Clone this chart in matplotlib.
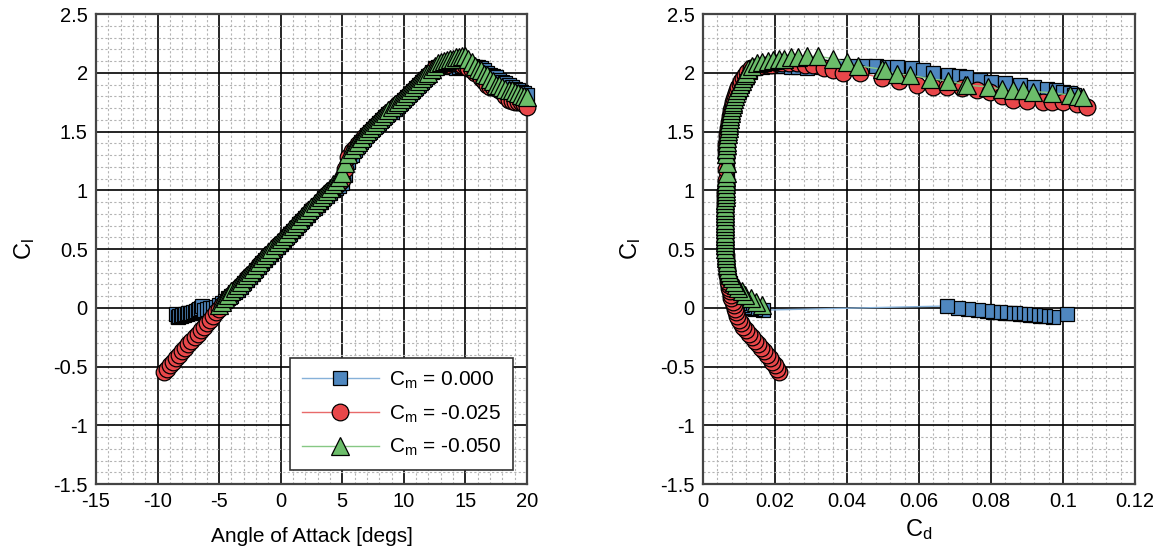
#  Cl - alpha and drag polar for three pitching-moment targets

import matplotlib.pyplot as plt
import numpy as np
from matplotlib.ticker import MultipleLocator, FormatStrFormatter

plt.rcParams['font.family'] = ['Liberation Sans', 'DejaVu Sans']
plt.rcParams['mathtext.fontset'] = 'custom'
plt.rcParams['mathtext.rm'] = 'Liberation Sans'
plt.rcParams['mathtext.it'] = 'Liberation Sans'

# ---- data ----

# Cm = 0.000 (blue squares)
alpha_0 = [-8.5, -8.375, -8.25, -8.125, -8.0, -7.875, -7.75, -7.625, -7.5, -7.375,
           -7.25, -7.125, -7.0, -6.875, -6.75, -6.625, -6.5, -6.375, -6.25,
           -6.0, -5.75, -5.5, -5.25, -5.0, -4.75, -4.5, -4.25, -4.0, -3.75, -3.5, -3.25,
           -3.0, -2.75, -2.5, -2.25, -2.0, -1.75, -1.5, -1.25, -1.0, -0.75, -0.5, -0.25, 0.0,
           0.25, 0.5, 0.75, 1.0, 1.25, 1.5, 1.75, 2.0, 2.25, 2.5, 2.75, 3.0,
           3.25, 3.5, 3.75, 4.0, 4.25, 4.5, 4.75, 5.0, 5.25, 5.5, 5.75, 6.0,
           6.25, 6.5, 6.75, 7.0, 7.25, 7.5, 7.75, 8.0, 8.25, 8.5, 8.75, 9.0,
           9.25, 9.5, 9.75, 10.0, 10.25, 10.5, 10.75, 11.0, 11.25, 11.5, 11.75, 12.0,
           12.25, 12.5, 12.75, 13.0, 13.25, 13.5, 13.75, 14.0, 14.25, 14.5, 14.75,
           15.0, 15.25, 15.5, 15.75, 16.0, 16.25, 16.5, 16.75, 17.0, 17.25, 17.5,
           17.75, 18.0, 18.25, 18.5, 18.75, 19.0, 19.25, 19.5, 19.75, 20.0]
cl_0 = [-0.05, -0.075, -0.072, -0.069, -0.065, -0.06, -0.055, -0.052, -0.048, -0.045,
        -0.043, -0.04, -0.037, -0.03, -0.02, -0.01, 0.0, 0.015, -0.02,
        -0.01, -0.005, 0.0, 0.01, 0.02, 0.04, 0.06, 0.08, 0.10, 0.13, 0.155, 0.18,
        0.21, 0.24, 0.265, 0.29, 0.32, 0.35, 0.38, 0.405, 0.435, 0.46, 0.49, 0.52, 0.545,
        0.57, 0.60, 0.63, 0.655, 0.68, 0.71, 0.74, 0.765, 0.79, 0.82, 0.85, 0.875,
        0.90, 0.93, 0.955, 0.975, 1.00, 1.02, 1.04, 1.06, 1.13, 1.24, 1.30, 1.34,
        1.375, 1.41, 1.44, 1.47, 1.495, 1.52, 1.545, 1.57, 1.595, 1.62, 1.645, 1.67,
        1.695, 1.72, 1.745, 1.77, 1.795, 1.82, 1.845, 1.87, 1.895, 1.92, 1.945, 1.97,
        2.01, 2.04, 2.05, 2.06, 2.06, 2.06, 2.05, 2.05, 2.04, 2.05, 2.06,
        2.06, 2.06, 2.06, 2.05, 2.05, 2.04, 2.02, 2.00, 1.98, 1.97, 1.96,
        1.94, 1.92, 1.91, 1.90, 1.88, 1.86, 1.85, 1.84, 1.83, 1.81]
cd_0 = [0.101, 0.0972, 0.0949, 0.0935, 0.0921, 0.0907, 0.0894, 0.088, 0.0866, 0.0852,
        0.0838, 0.0825, 0.0806, 0.0788, 0.0765, 0.0737, 0.0707, 0.0677, 0.0167,
        0.0145, 0.0133, 0.0123, 0.0114, 0.0107, 0.0100, 0.0095, 0.0090, 0.0086, 0.0082, 0.0079, 0.0076,
        0.0074, 0.0072, 0.0070, 0.0068, 0.0067, 0.0066, 0.0065, 0.0064, 0.0064, 0.0063, 0.0063, 0.0062, 0.0062,
        0.0062, 0.0062, 0.0062, 0.0062, 0.0062, 0.0062, 0.0062, 0.0062, 0.0062, 0.0062, 0.0062, 0.0063,
        0.0063, 0.0063, 0.0064, 0.0064, 0.0065, 0.0066, 0.0066, 0.0067, 0.0067, 0.0066, 0.0066, 0.0066,
        0.0067, 0.0068, 0.0069, 0.0070, 0.0071, 0.0072, 0.0073, 0.0074, 0.0076, 0.0077, 0.0079, 0.0080,
        0.0082, 0.0084, 0.0086, 0.0089, 0.0092, 0.0095, 0.0099, 0.0103, 0.0107, 0.0111, 0.0116, 0.0121,
        0.0130, 0.0145, 0.0165, 0.0185, 0.0205, 0.0225, 0.0245, 0.0265, 0.0290, 0.0330, 0.0380,
        0.0420, 0.0450, 0.0480, 0.0510, 0.0540, 0.0580, 0.0610, 0.0640, 0.0680, 0.0710, 0.0730,
        0.0770, 0.0800, 0.0840, 0.0880, 0.0920, 0.0955, 0.0980, 0.1000, 0.1020, 0.1030]

# Cm = -0.025 (red circles)
alpha_1 = [-9.5, -9.25, -9.0, -8.75, -8.5, -8.25, -8.0, -7.75, -7.5, -7.25, -7.0, -6.75,
           -6.5, -6.25, -6.0, -5.75, -5.5, -5.25, -5.0, -4.75, -4.5, -4.25, -4.0, -3.75, -3.5, -3.25,
           -3.0, -2.75, -2.5, -2.25, -2.0, -1.75, -1.5, -1.25, -1.0, -0.75, -0.5, -0.25, 0.0,
           0.25, 0.5, 0.75, 1.0, 1.25, 1.5, 1.75, 2.0, 2.25, 2.5, 2.75, 3.0,
           3.25, 3.5, 3.75, 4.0, 4.25, 4.5, 4.75, 5.0, 5.25, 5.5, 5.75, 6.0,
           6.25, 6.5, 6.75, 7.0, 7.25, 7.5, 7.75, 8.0, 8.25, 8.5, 8.75, 9.0,
           9.25, 9.5, 9.75, 10.0, 10.25, 10.5, 10.75, 11.0, 11.25, 11.5, 11.75, 12.0,
           12.25, 12.5, 12.75, 13.0, 13.25, 13.5, 13.75, 14.0, 14.25, 14.5, 14.75,
           15.0, 15.25, 15.5, 15.75, 16.0, 16.25, 16.5, 16.75, 17.0, 17.25, 17.5,
           17.75, 18.0, 18.25, 18.5, 18.75, 19.0, 19.25, 19.5, 19.75, 20.0]
cl_1 = [-0.55, -0.52, -0.49, -0.46, -0.43, -0.40, -0.37, -0.34, -0.31, -0.28, -0.25, -0.22,
        -0.19, -0.16, -0.13, -0.10, -0.07, -0.04, -0.01, 0.02, 0.05, 0.08, 0.11, 0.14, 0.165, 0.19,
        0.22, 0.25, 0.275, 0.30, 0.33, 0.36, 0.39, 0.415, 0.445, 0.47, 0.50, 0.53, 0.555,
        0.58, 0.61, 0.64, 0.665, 0.69, 0.72, 0.75, 0.775, 0.80, 0.83, 0.86, 0.885,
        0.91, 0.94, 0.965, 0.99, 1.015, 1.04, 1.065, 1.09, 1.18, 1.28, 1.33, 1.36,
        1.39, 1.42, 1.45, 1.48, 1.505, 1.53, 1.555, 1.58, 1.605, 1.63, 1.655, 1.68,
        1.705, 1.73, 1.755, 1.78, 1.805, 1.83, 1.855, 1.88, 1.905, 1.93, 1.955, 1.98,
        2.01, 2.04, 2.05, 2.06, 2.07, 2.07, 2.08, 2.08, 2.08, 2.08, 2.07,
        2.065, 2.04, 2.02, 2.00, 2.00, 1.955, 1.93, 1.895, 1.88, 1.88, 1.87,
        1.855, 1.84, 1.80, 1.77, 1.76, 1.75, 1.75, 1.75, 1.73, 1.71]
cd_1 = [0.0210, 0.0205, 0.0200, 0.0193, 0.0185, 0.0178, 0.0170, 0.0161, 0.0152, 0.0144, 0.0135, 0.0127,
        0.0120, 0.0112, 0.0105, 0.0100, 0.0095, 0.0091, 0.0088, 0.0085, 0.0082, 0.0079, 0.0077, 0.0075, 0.0073, 0.0071,
        0.0070, 0.0069, 0.0068, 0.0067, 0.0066, 0.0065, 0.0064, 0.0063, 0.0063, 0.0062, 0.0062, 0.0061, 0.0061,
        0.0060, 0.0060, 0.0060, 0.0060, 0.0060, 0.0060, 0.0060, 0.0060, 0.0060, 0.0060, 0.0061, 0.0061,
        0.0061, 0.0061, 0.0062, 0.0062, 0.0063, 0.0063, 0.0064, 0.0064, 0.0064, 0.0063, 0.0063, 0.0064,
        0.0065, 0.0066, 0.0067, 0.0068, 0.0069, 0.0070, 0.0071, 0.0072, 0.0074, 0.0075, 0.0077, 0.0078,
        0.0080, 0.0082, 0.0084, 0.0086, 0.0089, 0.0091, 0.0094, 0.0098, 0.0102, 0.0106, 0.0111, 0.0116,
        0.0122, 0.0132, 0.0145, 0.0160, 0.0175, 0.0190, 0.0205, 0.0220, 0.0240, 0.0260, 0.0283,
        0.0306, 0.0335, 0.0360, 0.0390, 0.0436, 0.0497, 0.0545, 0.0594, 0.0640, 0.0677, 0.0720,
        0.0760, 0.0797, 0.0830, 0.0860, 0.0900, 0.0944, 0.0970, 0.1000, 0.1040, 0.1066]

# Cm = -0.050 (green triangles)
alpha_2 = [-5.0, -4.75, -4.5, -4.25, -4.0, -3.75, -3.5, -3.25,
           -3.0, -2.75, -2.5, -2.25, -2.0, -1.75, -1.5, -1.25, -1.0, -0.75, -0.5, -0.25, 0.0,
           0.25, 0.5, 0.75, 1.0, 1.25, 1.5, 1.75, 2.0, 2.25, 2.5, 2.75, 3.0,
           3.25, 3.5, 3.75, 4.0, 4.25, 4.5, 4.75, 5.0, 5.25, 5.5, 5.75, 6.0,
           6.25, 6.5, 6.75, 7.0, 7.25, 7.5, 7.75, 8.0, 8.25, 8.5, 8.75, 9.0,
           9.25, 9.5, 9.75, 10.0, 10.25, 10.5, 10.75, 11.0, 11.25, 11.5, 11.75, 12.0,
           12.25, 12.5, 12.75, 13.0, 13.25, 13.5, 13.75, 14.0, 14.25, 14.5, 14.75,
           15.0, 15.25, 15.5, 15.75, 16.0, 16.25, 16.5, 16.75, 17.0, 17.25, 17.5,
           17.75, 18.0, 18.25, 18.5, 18.75, 19.0, 19.25, 19.5, 19.75, 20.0]
cl_2 = [0.02, 0.05, 0.08, 0.11, 0.14, 0.165, 0.195, 0.22,
        0.25, 0.28, 0.305, 0.33, 0.36, 0.39, 0.42, 0.445, 0.475, 0.50, 0.53, 0.56, 0.585,
        0.61, 0.64, 0.67, 0.695, 0.72, 0.75, 0.78, 0.805, 0.83, 0.86, 0.89, 0.915,
        0.94, 0.97, 0.995, 1.02, 1.05, 1.08, 1.11, 1.15, 1.23, 1.31, 1.355, 1.385,
        1.415, 1.445, 1.475, 1.505, 1.53, 1.555, 1.58, 1.605, 1.63, 1.655, 1.68, 1.705,
        1.73, 1.755, 1.78, 1.805, 1.83, 1.855, 1.88, 1.905, 1.93, 1.955, 1.98, 2.00,
        2.03, 2.06, 2.08, 2.09, 2.10, 2.11, 2.12, 2.12, 2.13, 2.13, 2.14,
        2.14, 2.12, 2.09, 2.06, 2.03, 2.02, 1.99, 1.98, 1.95, 1.93, 1.90,
        1.895, 1.88, 1.86, 1.85, 1.85, 1.84, 1.83, 1.81, 1.80, 1.79]
cd_2 = [0.0164, 0.0147, 0.0132, 0.0118, 0.0107, 0.0098, 0.0091, 0.0085,
        0.0080, 0.0076, 0.0073, 0.0070, 0.0068, 0.0066, 0.0065, 0.0064, 0.0063, 0.0062, 0.0062, 0.0061, 0.0061,
        0.0061, 0.0061, 0.0061, 0.0061, 0.0061, 0.0061, 0.0061, 0.0061, 0.0062, 0.0062, 0.0062, 0.0062,
        0.0063, 0.0063, 0.0063, 0.0064, 0.0064, 0.0065, 0.0065, 0.0066, 0.0066, 0.0065, 0.0065, 0.0066,
        0.0067, 0.0068, 0.0069, 0.0070, 0.0071, 0.0072, 0.0073, 0.0074, 0.0076, 0.0077, 0.0079, 0.0080,
        0.0082, 0.0084, 0.0086, 0.0089, 0.0092, 0.0095, 0.0099, 0.0103, 0.0107, 0.0111, 0.0116, 0.0120,
        0.0126, 0.0137, 0.0150, 0.0165, 0.0180, 0.0195, 0.0210, 0.0225, 0.0245, 0.0265, 0.0290,
        0.0320, 0.0362, 0.0400, 0.0431, 0.0496, 0.0506, 0.0538, 0.0575, 0.0630, 0.0680, 0.0728,
        0.0732, 0.0793, 0.0830, 0.0862, 0.0890, 0.0918, 0.0970, 0.1020, 0.1043, 0.1056]

labels = ['C$_\\mathrm{m}$ = 0.000', 'C$_\\mathrm{m}$ = -0.025', 'C$_\\mathrm{m}$ = -0.050']

series = [
    (alpha_0, cl_0, cd_0, 's', 9.5, '#4f87bf', '#86b1d9'),
    (alpha_1, cl_1, cd_1, 'o', 12, '#e8474a', '#e86a6a'),
    (alpha_2, cl_2, cd_2, '^', 13, '#6cbd6a', '#86c884'),
]

fig = plt.figure(figsize=(11.61, 5.5), dpi=100)
ax1 = fig.add_axes([0.0827, 0.12, 0.3712, 0.8545])
ax2 = fig.add_axes([0.6055, 0.12, 0.3721, 0.8545])

for (a, cl, cd, mk, ms, fc, lc), lab in zip(series, labels):
    ax1.plot(a, cl, color=lc, lw=1.0, marker=mk, ms=ms, mfc=fc, mec='black',
             mew=0.9, label=lab, clip_on=False, zorder=3)
    ax2.plot(cd, cl, color=lc, lw=1.0, marker=mk, ms=ms, mfc=fc, mec='black',
             mew=0.9, clip_on=False, zorder=3)


def style(ax, xmaj, xmin):
    ax.xaxis.set_major_locator(MultipleLocator(xmaj))
    ax.xaxis.set_minor_locator(MultipleLocator(xmin))
    ax.yaxis.set_major_locator(MultipleLocator(0.5))
    ax.yaxis.set_minor_locator(MultipleLocator(0.1))
    ax.xaxis.set_major_formatter(FormatStrFormatter('%g'))
    ax.yaxis.set_major_formatter(FormatStrFormatter('%g'))
    ax.set_axisbelow(True)
    ax.grid(which='minor', color='#b4b4b4', lw=0.8, ls=(0, (2, 2)))
    ax.grid(which='major', color='black', lw=1.2, ls='-')
    ax.tick_params(which='both', length=0, labelsize=14.5, pad=6)
    for sp in ax.spines.values():
        sp.set_color('#444444')
        sp.set_linewidth(1.6)
    ax.set_ylim(-1.5, 2.5)
    ax.set_ylabel('C$_\\mathrm{l}$', fontsize=17, labelpad=12)


ax1.set_xlim(-15, 20)
style(ax1, 5, 1)
ax1.set_xlabel('Angle of Attack [degs]', fontsize=15, labelpad=11)

ax2.set_xlim(0, 0.12)
style(ax2, 0.02, 0.004)
ax2.set_xlabel('C$_\\mathrm{d}$', fontsize=17, labelpad=4)

leg = ax1.legend(loc='lower right', bbox_to_anchor=(0.9675, 0.03), fontsize=15,
                 frameon=True, fancybox=False, edgecolor='#333333', framealpha=1,
                 borderaxespad=0, handlelength=3.7, handletextpad=0.5,
                 borderpad=0.55, labelspacing=0.6)
leg.get_frame().set_linewidth(1.2)

plt.savefig('out.png', dpi=100)
